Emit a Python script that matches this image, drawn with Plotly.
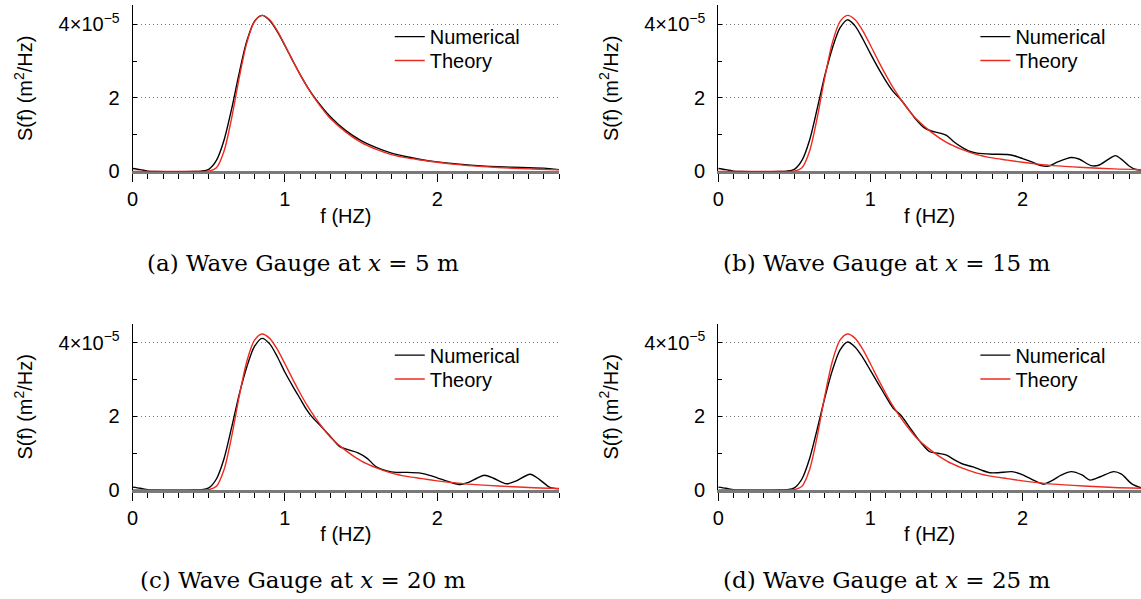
import plotly.graph_objects as go

SCALE = 1e-5

theory_f = [0.0, 0.3, 0.45, 0.5, 0.55, 0.6, 0.65, 0.7, 0.75, 0.8, 0.85, 0.9, 0.95, 1.0, 1.05, 1.1, 1.15,
            1.2, 1.25, 1.3, 1.4, 1.5, 1.6, 1.7, 1.8, 1.9, 2.0, 2.1, 2.2, 2.4, 2.6, 2.8]
theory_s = [0, 0, 0, 0.01, 0.1, 0.55, 1.45, 2.55, 3.5, 4.07, 4.24, 4.12, 3.82, 3.43, 3.02, 2.63, 2.27,
            1.96, 1.68, 1.43, 1.07, 0.79, 0.6, 0.46, 0.37, 0.31, 0.25, 0.2, 0.16, 0.11, 0.07, 0.045]

num_a_f = [0.0, 0.05, 0.1, 0.15, 0.4, 0.45, 0.5, 0.55, 0.6, 0.65, 0.7, 0.75, 0.8, 0.85, 0.9, 0.95, 1.0,
           1.05, 1.1, 1.15, 1.2, 1.3, 1.4, 1.5, 1.6, 1.7, 1.8, 1.9, 2.0, 2.2, 2.4, 2.6, 2.7, 2.8]
num_a_s = [0.08, 0.05, 0.01, 0, 0, 0.01, 0.06, 0.3, 0.85, 1.7, 2.68, 3.55, 4.08, 4.24, 4.1, 3.8, 3.42,
           3.02, 2.63, 2.28, 1.98, 1.48, 1.11, 0.84, 0.65, 0.5, 0.4, 0.32, 0.26, 0.18, 0.13, 0.1, 0.09, 0.05]

num_b_f = [0.0, 0.05, 0.1, 0.15, 0.4, 0.45, 0.5, 0.55, 0.6, 0.65, 0.7, 0.75, 0.8, 0.85, 0.9, 0.95, 1.0,
           1.05, 1.1, 1.15, 1.2, 1.25, 1.3, 1.35, 1.4, 1.45, 1.5, 1.55, 1.6, 1.65, 1.7, 1.8, 1.9, 1.95,
           2.0, 2.06, 2.12, 2.17, 2.23, 2.32, 2.37, 2.45, 2.5, 2.56, 2.61, 2.65, 2.7, 2.74, 2.8]
num_b_s = [0.08, 0.05, 0.01, 0, 0, 0.01, 0.06, 0.3, 0.85, 1.7, 2.6, 3.35, 3.9, 4.12, 3.95, 3.6, 3.2,
           2.82, 2.47, 2.17, 1.95, 1.68, 1.41, 1.2, 1.1, 1.05, 0.98, 0.8, 0.66, 0.55, 0.5, 0.47, 0.46, 0.42,
           0.35, 0.26, 0.16, 0.145, 0.26, 0.38, 0.34, 0.16, 0.17, 0.32, 0.43, 0.33, 0.15, 0.06, 0.03]

num_c_f = [0.0, 0.05, 0.1, 0.15, 0.4, 0.45, 0.5, 0.55, 0.6, 0.65, 0.7, 0.75, 0.8, 0.85, 0.9, 0.95, 1.0,
           1.05, 1.1, 1.14, 1.175, 1.24, 1.31, 1.36, 1.42, 1.48, 1.54, 1.6, 1.67, 1.73, 1.8, 1.89, 1.95,
           2.0, 2.08, 2.15, 2.2, 2.26, 2.31, 2.37, 2.455, 2.52, 2.61, 2.67, 2.74, 2.8]
num_c_s = [0.08, 0.05, 0.01, 0, 0, 0.01, 0.06, 0.3, 0.85, 1.7, 2.6, 3.35, 3.9, 4.12, 3.97, 3.62, 3.2,
           2.83, 2.48, 2.2, 2.0, 1.72, 1.40, 1.18, 1.09, 1.01, 0.86, 0.63, 0.52, 0.48, 0.48, 0.46, 0.4,
           0.33, 0.22, 0.15, 0.2, 0.32, 0.4, 0.32, 0.17, 0.25, 0.43, 0.29, 0.07, 0.03]

num_d_f = [0.0, 0.05, 0.1, 0.15, 0.4, 0.45, 0.5, 0.55, 0.6, 0.65, 0.7, 0.75, 0.8, 0.85, 0.9, 0.95, 1.0,
           1.05, 1.1, 1.15, 1.2, 1.27, 1.335, 1.39, 1.445, 1.5, 1.555, 1.61, 1.675, 1.73, 1.785, 1.84, 1.93,
           1.99, 2.06, 2.136, 2.19, 2.256, 2.32, 2.39, 2.443, 2.51, 2.6, 2.65, 2.72, 2.8]
num_d_s = [0.08, 0.05, 0.01, 0, 0, 0.01, 0.06, 0.3, 0.85, 1.65, 2.5, 3.25, 3.8, 4.02, 3.88, 3.6, 3.25,
           2.9, 2.55, 2.22, 2.03, 1.63, 1.27, 1.04, 1.0, 0.95, 0.81, 0.70, 0.63, 0.54, 0.47, 0.47, 0.5,
           0.43, 0.29, 0.16, 0.25, 0.41, 0.5, 0.41, 0.27, 0.36, 0.5, 0.43, 0.16, 0.03]

captions = ["(a) Wave Gauge at <i>x</i> = 5 m", "(b) Wave Gauge at <i>x</i> = 15 m",
            "(c) Wave Gauge at <i>x</i> = 20 m", "(d) Wave Gauge at <i>x</i> = 25 m"]
y_tick_vals = [0, 2, 4]
y_tick_text = ["0", "2", "4×10<sup>−5</sup>"]
x_tick_vals = [0, 1, 2]
x_title = "f (HZ)"
y_title = "S(f) (m<sup>2</sup>/Hz)"

W, H = 1141, 599
FONT = "Liberation Sans, Arial, Helvetica, sans-serif"
RED = "#ee2b20"

# panel geometry in pixels: (left, right, top, bottom, xmax)
panels = [
    (127.3, 556.0, 5.2, 174.7, 2.80),
    (716.0, 1141.0, 5.2, 174.7, 2.778),
    (127.3, 556.0, 329.7, 499.2, 2.80),
    (716.0, 1141.0, 329.7, 499.2, 2.778),
]
numericals = [(num_a_f, num_a_s), (num_b_f, num_b_s), (num_c_f, num_c_s), (num_d_f, num_d_s)]
cap_pos = [(299, 267.5), (886, 267.5), (299, 590.5), (886, 590.5)]

fig = go.Figure()
layout = dict(width=W, height=H, margin=dict(l=0, r=0, t=0, b=0),
              paper_bgcolor="white", plot_bgcolor="white", showlegend=True,
              font=dict(family=FONT, size=20, color="black"), annotations=[])

for i, ((l, r, t, b, xmax), (nf, ns)) in enumerate(zip(panels, numericals)):
    k = "" if i == 0 else str(i + 1)
    lg_num = "legend" if i == 0 else f"legend{2 * i + 1}"
    lg_th = f"legend{2 * i + 2}"
    fig.add_trace(go.Scatter(x=nf, y=[v * SCALE for v in ns], mode="lines", name="Numerical",
                             line=dict(color="black", width=1.4, shape="spline", smoothing=0.8),
                             xaxis="x" + k, yaxis="y" + k, legend=lg_num))
    fig.add_trace(go.Scatter(x=theory_f, y=[v * SCALE for v in theory_s], mode="lines", name="Theory",
                             line=dict(color=RED, width=1.4, shape="spline", smoothing=0.8),
                             xaxis="x" + k, yaxis="y" + k, legend=lg_th))
    layout["xaxis" + k] = dict(
        domain=[l / W, r / W], range=[0, xmax], anchor="y" + k,
        tickvals=x_tick_vals, ticks="outside", ticklen=8, tickcolor="black", tickwidth=1,
        minor=dict(dtick=0.1, tick0=0, ticks="outside", ticklen=5, tickcolor="black", tickwidth=1),
        showline=True, linecolor="#7a7a7a", linewidth=2.5, layer="below traces",
        showgrid=False, zeroline=False,
        tickfont=dict(size=20), title=dict(text=x_title, font=dict(size=20), standoff=0),
    )
    layout["yaxis" + k] = dict(
        domain=[1 - b / H, 1 - t / H], range=[0, 4.52 * SCALE], anchor="x" + k,
        tickvals=[v * SCALE for v in y_tick_vals], ticktext=y_tick_text,
        ticks="inside", ticklen=4, tickcolor="black", tickwidth=1, ticklabelstandoff=8,
        minor=dict(tickvals=[1 * SCALE, 3 * SCALE], ticks="inside", ticklen=4, tickcolor="black"),
        showline=True, linecolor="black", linewidth=1,
        showgrid=True, gridcolor="#777777", griddash="1px,3px", gridwidth=1, zeroline=False,
        tickfont=dict(size=20), title=dict(text=y_title, font=dict(size=20), standoff=20),
    )
    lx = (l + 258.5) / W
    for lg, top in ((lg_num, t + 12.2), (lg_th, t + 36.6)):
        layout[lg] = dict(x=lx, y=1 - top / H, xanchor="left", yanchor="top",
                          bgcolor="rgba(0,0,0,0)", font=dict(size=20, family=FONT), itemwidth=30)
    cx, cy = cap_pos[i]
    layout["annotations"].append(dict(
        text=captions[i], x=cx / W, y=1 - cy / H, xref="paper", yref="paper",
        xanchor="center", yanchor="middle", showarrow=False,
        font=dict(family="DejaVu Serif, Liberation Serif, serif", size=23, color="black")))

fig.update_layout(**layout)
fig.write_html("out.html", config={"displayModeBar": False},
               post_script="document.body.style.margin='0px';")
